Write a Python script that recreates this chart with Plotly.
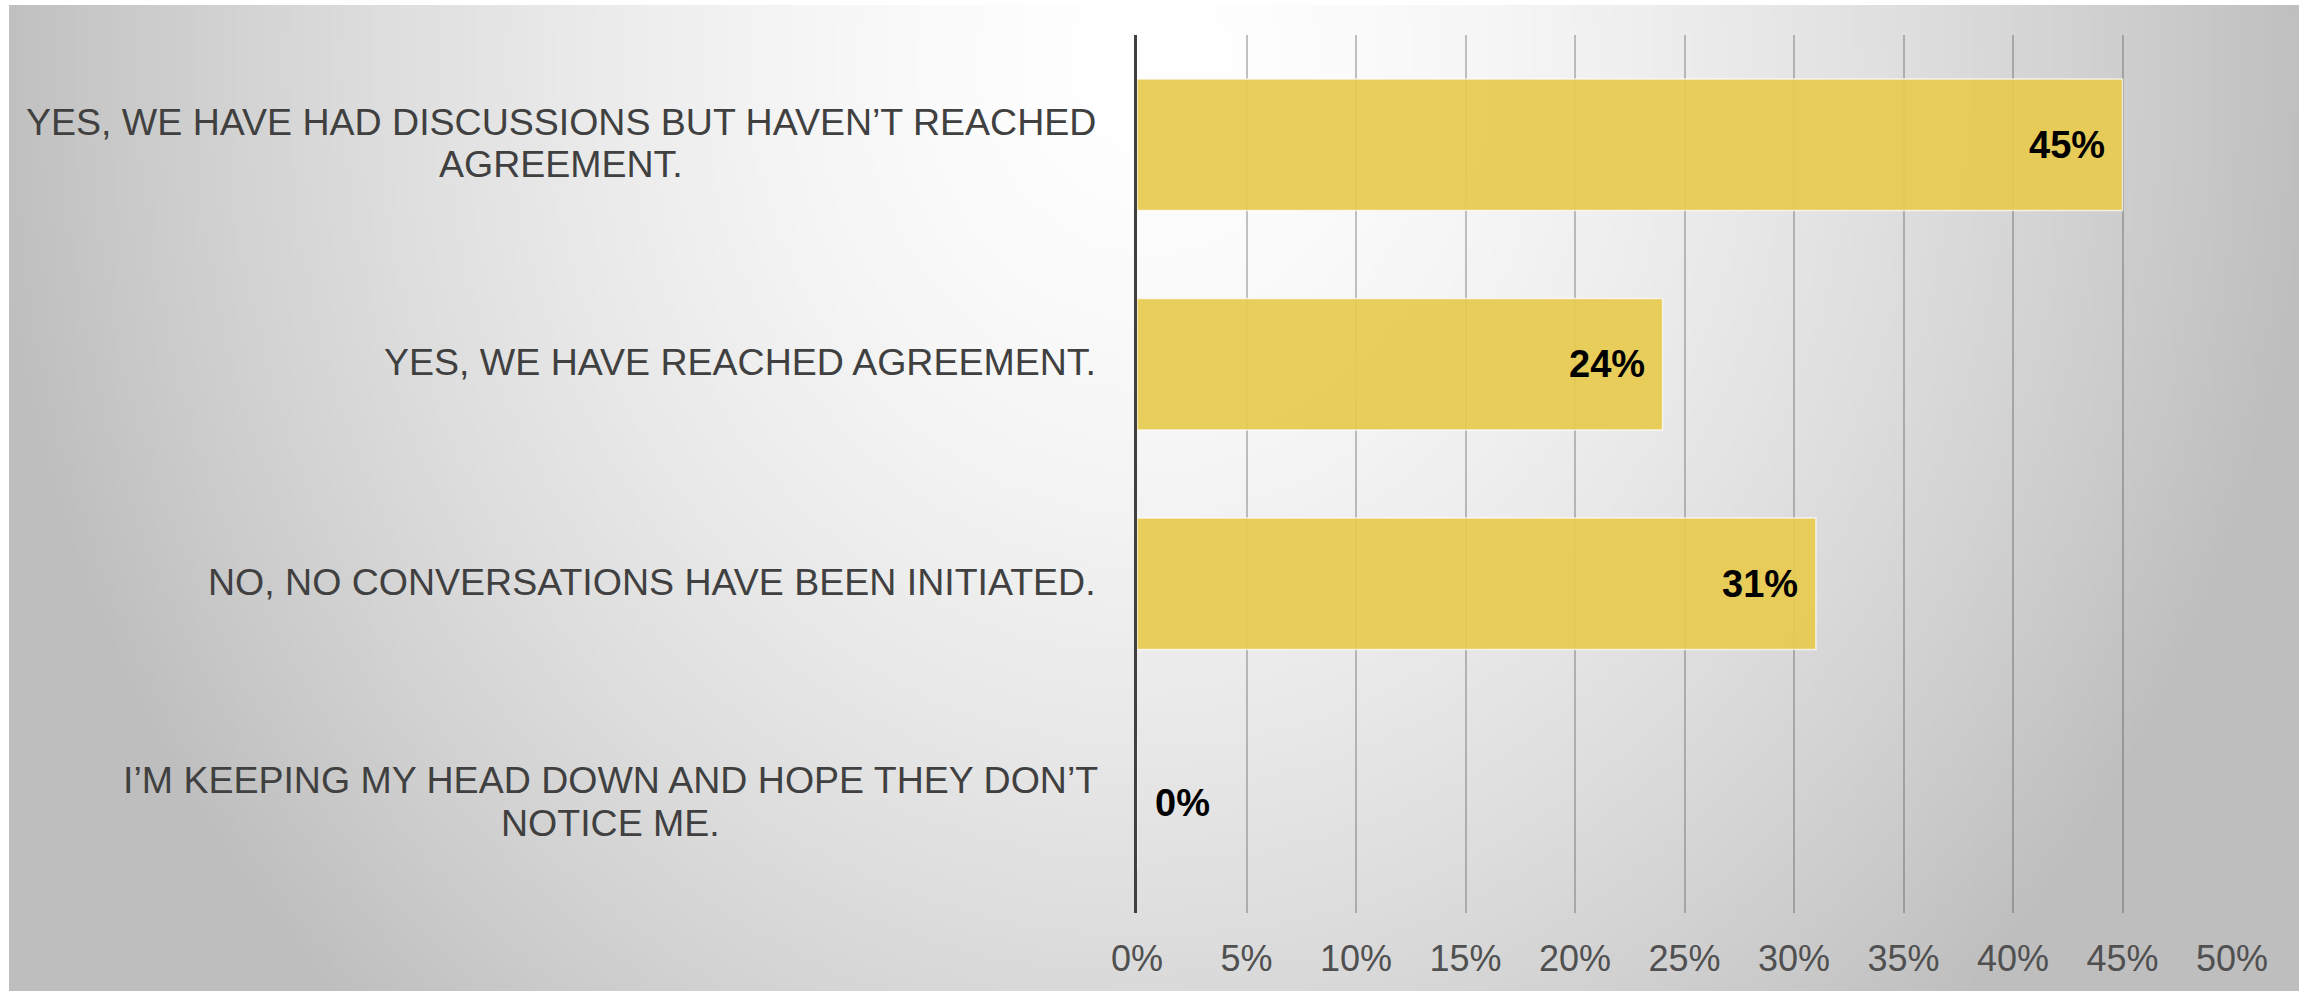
import base64
import struct
import zlib

import numpy as np
import plotly.graph_objects as go

# ---------------- data ----------------
categories = [
    "YES, WE HAVE HAD DISCUSSIONS BUT HAVEN\u2019T REACHED<br>AGREEMENT.",
    "YES, WE HAVE REACHED AGREEMENT.",
    "NO, NO CONVERSATIONS HAVE BEEN INITIATED.",
    "I\u2019M KEEPING MY HEAD DOWN AND HOPE THEY DON\u2019T<br>NOTICE ME.",
]
values = [0.45, 0.24, 0.31, 0.0]
x_ticks = [0, 0.05, 0.10, 0.15, 0.20, 0.25, 0.30, 0.35, 0.40, 0.45, 0.50]
x_tick_labels = ["0%", "5%", "10%", "15%", "20%", "25%", "30%", "35%", "40%", "45%", "50%"]

# ---------------- style constants ----------------
W, H = 2308, 991
FONT = "Liberation Sans, Arial, Helvetica, sans-serif"
BAR_COLOR = "rgb(232,203,80)"
CAT_COLOR = "#404040"
TICK_COLOR = "#505050"
CAT_FS = 37.5
LS = 42.5
LABEL_RIGHT_PX = 1100

# Arial / Liberation Sans advance widths (per 1000 em) for centering wrapped lines
_ARIAL = {" ": 278, ",": 278, ".": 278, "\u2019": 222, "'": 191,
          "A": 667, "B": 667, "C": 722, "D": 722, "E": 667, "F": 611, "G": 778,
          "H": 722, "I": 278, "J": 500, "K": 667, "L": 556, "M": 833, "N": 722,
          "O": 778, "P": 667, "Q": 778, "R": 722, "S": 667, "T": 611, "U": 722,
          "V": 667, "W": 944, "X": 667, "Y": 667, "Z": 611}


def text_width(s, size):
    return sum(_ARIAL.get(ch, 600) for ch in s) / 1000.0 * size


# ---------------- background gradient (decoration) ----------------
def gradient_png():
    gw, gh = 458, 197
    xs = np.linspace(9, 2299, gw)
    ys = np.linspace(5, 991, gh)
    X, Y = np.meshgrid(xs, ys)
    cx, cy = 1150.0, 60.0
    r = np.sqrt(((X - cx) / 1150.0) ** 2 + ((Y - cy) / 1300.0) ** 2)
    v = 255.0 - 63.0 * r ** 1.6
    v = np.clip(v, 190, 255).astype(np.uint8)
    raw = b"".join(b"\x00" + row.tobytes() for row in v)

    def chunk(tag, data):
        c = struct.pack(">I", len(data)) + tag + data
        return c + struct.pack(">I", zlib.crc32(tag + data) & 0xFFFFFFFF)

    png = b"\x89PNG\r\n\x1a\n"
    png += chunk(b"IHDR", struct.pack(">IIBBBBB", gw, gh, 8, 0, 0, 0, 0))
    png += chunk(b"IDAT", zlib.compress(raw, 9))
    png += chunk(b"IEND", b"")
    return "data:image/png;base64," + base64.b64encode(png).decode()


fig = go.Figure()

fig.add_trace(
    go.Bar(
        x=values,
        y=categories,
        orientation="h",
        marker=dict(color=BAR_COLOR, opacity=0.93,
                    line=dict(color="rgba(255,255,255,0.75)", width=1.5)),
        hoverinfo="skip",
        showlegend=False,
    )
)

annotations = []
# data labels
for cat, v in zip(categories, values):
    txt = f"{round(v * 100)}%"
    inside = v > 0
    annotations.append(dict(x=v, y=cat, xref="x", yref="y", text=txt, showarrow=False,
                            xanchor="right" if inside else "left", yanchor="middle",
                            xshift=-16 if inside else 16,
                            font=dict(family=FONT, size=38, color="#000000", weight="bold")))

# category labels: block right-anchored, lines centred within it
for cat in categories:
    lines = cat.split("<br>")
    f = dict(family=FONT, size=CAT_FS, color=CAT_COLOR)
    widths = [text_width(l, CAT_FS) for l in lines]
    block_w = max(widths)
    centre_px = LABEL_RIGHT_PX - block_w / 2.0
    n = len(lines)
    for i, line in enumerate(lines):
        offset = ((n - 1) / 2.0 - i) * LS  # positive = up
        annotations.append(dict(x=centre_px / W, y=cat, xref="paper", yref="y", text=line,
                                showarrow=False, xanchor="center", yanchor="middle",
                                yshift=offset + 2, font=f))

fig.update_layout(
    width=W,
    height=H,
    autosize=False,
    margin=dict(l=0, r=0, t=0, b=0, pad=0, autoexpand=False),
    paper_bgcolor="#ffffff",
    plot_bgcolor="rgba(0,0,0,0)",
    bargap=0.4,
    images=[dict(source=gradient_png(), xref="paper", yref="paper",
                 x=9 / W, y=1 - 5 / H, sizex=(2299 - 9) / W, sizey=(991 - 5) / H,
                 xanchor="left", yanchor="top", sizing="stretch", layer="below")],
    xaxis=dict(
        domain=[1137 / W, 2232 / W],
        range=[0, 0.5],
        tickvals=x_ticks,
        ticktext=x_tick_labels,
        showgrid=True,
        gridcolor="rgba(60,60,60,0.3)",
        gridwidth=1.5,
        zeroline=False,
        showline=False,
        ticks="",
        automargin=False,
        ticklabelstandoff=21,
        tickfont=dict(family=FONT, size=36, color=TICK_COLOR),
        fixedrange=True,
    ),
    yaxis=dict(
        domain=[1 - 913 / H, 1 - 35 / H],
        type="category",
        categoryorder="array",
        categoryarray=categories,
        autorange="reversed",
        showticklabels=False,
        showgrid=False,
        zeroline=False,
        showline=True,
        linecolor="#404040",
        linewidth=3,
        ticks="",
        automargin=False,
        fixedrange=True,
    ),
    annotations=annotations,
)

fig.write_html("out.html", config={"responsive": False})
